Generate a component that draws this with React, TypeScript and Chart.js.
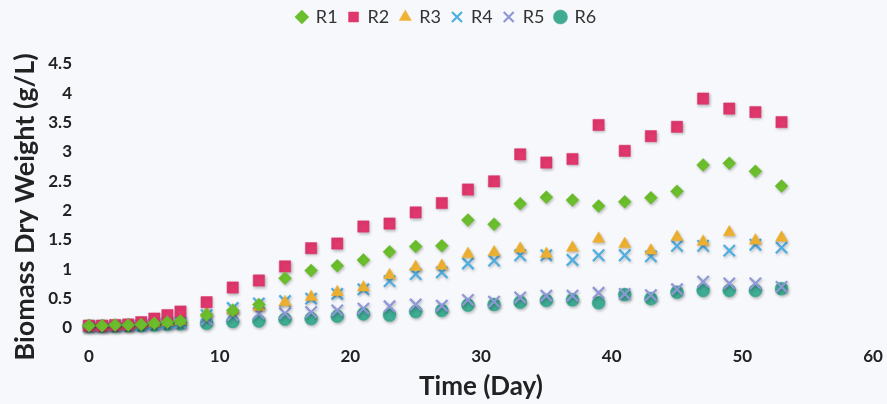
import React, { useEffect, useRef } from "react";
import { Chart, registerables } from "chart.js";

Chart.register(...registerables);

// Sampling days
const days = [0, 1, 2, 3, 4, 5, 6, 7, 9, 11, 13, 15, 17, 19, 21, 23, 25, 27, 29, 31, 33, 35, 37, 39, 41, 43, 45, 47, 49, 51, 53];

// Biomass dry weight (g/L) per reactor
const r1 = [0.04, 0.04, 0.05, 0.05, 0.06, 0.08, 0.1, 0.12, 0.22, 0.3, 0.4, 0.85, 0.98, 1.06, 1.16, 1.3, 1.39, 1.4, 1.84, 1.77, 2.12, 2.23, 2.18, 2.08, 2.15, 2.22, 2.33, 2.78, 2.81, 2.67, 2.42];
const r2 = [0.04, 0.04, 0.05, 0.06, 0.1, 0.16, 0.22, 0.28, 0.44, 0.69, 0.81, 1.05, 1.36, 1.44, 1.73, 1.78, 1.97, 2.13, 2.36, 2.5, 2.96, 2.82, 2.88, 3.46, 3.02, 3.27, 3.43, 3.91, 3.74, 3.68, 3.51];
const r3 = [0.03, 0.03, 0.04, 0.05, 0.06, 0.08, 0.1, 0.12, 0.25, 0.3, 0.36, 0.44, 0.53, 0.61, 0.69, 0.9, 1.04, 1.06, 1.26, 1.29, 1.35, 1.26, 1.37, 1.52, 1.43, 1.32, 1.55, 1.47, 1.63, 1.49, 1.54];
const r4 = [0.03, 0.03, 0.04, 0.04, 0.05, 0.07, 0.09, 0.1, 0.22, 0.34, 0.42, 0.46, 0.5, 0.58, 0.66, 0.8, 0.92, 0.95, 1.1, 1.15, 1.24, 1.24, 1.16, 1.24, 1.24, 1.22, 1.4, 1.4, 1.32, 1.42, 1.37];
const r5 = [0.03, 0.03, 0.03, 0.04, 0.05, 0.06, 0.07, 0.08, 0.15, 0.22, 0.25, 0.25, 0.27, 0.3, 0.33, 0.37, 0.4, 0.38, 0.48, 0.45, 0.52, 0.55, 0.55, 0.6, 0.58, 0.56, 0.66, 0.79, 0.76, 0.76, 0.7];
const r6 = [0.03, 0.03, 0.03, 0.04, 0.04, 0.05, 0.06, 0.07, 0.08, 0.11, 0.12, 0.15, 0.16, 0.2, 0.24, 0.22, 0.28, 0.3, 0.39, 0.4, 0.44, 0.47, 0.48, 0.43, 0.57, 0.5, 0.61, 0.64, 0.64, 0.64, 0.67];

const seriesNames = ["R1", "R2", "R3", "R4", "R5", "R6"];
const seriesValues = [r1, r2, r3, r4, r5, r6];
const seriesColors = ["#6cbf2c", "#e0376d", "#f0b232", "#4eaee0", "#8f98d6", "#3eab92"];
const seriesStyles = ["rectRot", "rect", "triangle", "crossRot", "crossRot", "circle"];
const seriesRadius = [6.5, 8, 7, 8, 8, 6.5];

const FONT = "Lato, 'Open Sans', sans-serif";

const background = {
  id: "bg",
  beforeDraw(chart: any) {
    const ctx = chart.ctx;
    ctx.save();
    ctx.fillStyle = "#f6f8fc";
    ctx.fillRect(0, 0, chart.width, chart.height);
    ctx.restore();
  },
};

// Soft drop shadow under the markers
const markerShadow = {
  id: "markerShadow",
  beforeDatasetsDraw(chart: any) {
    const ctx = chart.ctx;
    ctx.save();
    ctx.shadowColor = "rgba(0,0,0,0.25)";
    ctx.shadowBlur = 3;
    ctx.shadowOffsetX = 1;
    ctx.shadowOffsetY = 1.5;
  },
  afterDatasetsDraw(chart: any) {
    chart.ctx.restore();
  },
};

// Fixed legend band height, legend row nudged, y title nudged down
const layoutTweaks = {
  id: "layoutTweaks",
  beforeLayout(chart: any) {
    const lg = chart.legend;
    if (lg && !lg._bandPatched) {
      lg._bandPatched = true;
      const fit = lg.fit;
      lg.fit = function () {
        fit.call(this);
        this.height = 64;
      };
      const draw = lg.draw;
      lg.draw = function () {
        const c = this.ctx;
        c.save();
        c.translate(10, -3);
        draw.call(this);
        c.restore();
      };
    }
  },
  afterLayout(chart: any) {
    const y = chart.scales.y;
    if (y && !y._titlePatched) {
      y._titlePatched = true;
      const drawTitle = y.drawTitle;
      y.drawTitle = function (...args: any[]) {
        const c = this.ctx;
        c.save();
        c.translate(3, 11);
        drawTitle.apply(this, args);
        c.restore();
      };
    }
  },
};

export default function App() {
  const ref = useRef<HTMLCanvasElement | null>(null);

  useEffect(() => {
    document.body.style.margin = "0";
    const canvas = ref.current;
    if (!canvas) return;
    const datasets = seriesNames.map((name, i) => ({
      label: name,
      data: days.map((d, j) => ({ x: d, y: seriesValues[i][j] })),
      showLine: false,
      pointStyle: seriesStyles[i],
      pointRadius: seriesRadius[i],
      backgroundColor: seriesColors[i],
      borderColor: seriesColors[i],
      borderWidth: i === 3 || i === 4 ? 2.2 : 0.5,
      clip: false as any,
    }));
    const chart = new Chart(canvas, {
      type: "scatter",
      data: { datasets },
      options: {
        animation: false,
        responsive: false,
        layout: { padding: { top: 0, right: 14, left: 0, bottom: 0 } },
        plugins: {
          legend: {
            display: true,
            position: "top",
            labels: {
              usePointStyle: true,
              boxWidth: 10,
              boxHeight: 10,
              padding: 11,
              color: "#333",
              font: { family: FONT, size: 18 },
            },
          },
          tooltip: { enabled: false },
        },
        scales: {
          x: {
            type: "linear",
            min: 0,
            max: 60,
            grid: { display: false, drawTicks: true, tickLength: 18 },
            border: { display: false },
            ticks: {
              stepSize: 10,
              padding: 0,
              color: "#222",
              font: { family: FONT, size: 17, weight: "bold" },
            },
            title: {
              display: true,
              text: "Time (Day)",
              color: "#222",
              font: { family: FONT, size: 26, weight: "bold" },
              padding: { top: 0, bottom: 2 },
            },
            afterFit(scale: any) {
              scale.height = 76;
            },
          },
          y: {
            type: "linear",
            min: 0,
            max: 4.5,
            grid: { display: false, drawTicks: false },
            border: { display: false },
            ticks: {
              stepSize: 0.5,
              padding: 17,
              color: "#222",
              font: { family: FONT, size: 17, weight: "bold" },
              callback: (v: any) => String(Number(v)),
            },
            title: {
              display: true,
              text: "Biomass Dry Weight (g/L)",
              color: "#222",
              font: { family: FONT, size: 27, weight: "bold" },
              padding: { top: 6, bottom: 0 },
            },
            afterFit(scale: any) {
              scale.width = 89;
            },
          },
        },
      },
      plugins: [background, markerShadow, layoutTweaks],
    });
    return () => chart.destroy();
  }, []);

  return (
    <div style={{ position: "absolute", left: 0, top: 0, width: 887, height: 404 }}>
      <canvas ref={ref} width={887} height={404} style={{ display: "block" }} />
    </div>
  );
}
